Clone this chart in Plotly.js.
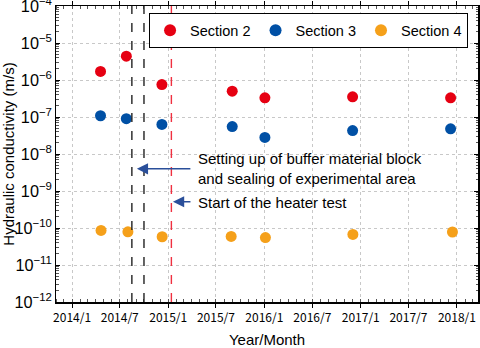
<!DOCTYPE html>
<html><head><meta charset="utf-8">
<script src="https://cdn.plot.ly/plotly-3.0.1.min.js"></script>
<style>html,body{margin:0;padding:0;background:#fff}</style>
</head><body><div id="chart" style="width:480px;height:348px"></div>
<script>
const dates = ["2014-04-19","2014-07-26","2014-12-08","2015-09-01","2016-01-03","2016-12-01","2017-12-08"];
const datesS4 = ["2014-04-21","2014-08-01","2014-12-09","2015-08-28","2016-01-05","2016-12-02","2017-12-15"];
const section2 = [1.7e-6, 4.4e-6, 7.5e-7, 5.0e-7, 3.3e-7, 3.5e-7, 3.3e-7];
const section3 = [1.08e-7, 9.0e-8, 6.3e-8, 5.5e-8, 2.8e-8, 4.3e-8, 4.8e-8];
const section4 = [8.6e-11, 7.9e-11, 5.8e-11, 5.9e-11, 5.5e-11, 6.7e-11, 7.8e-11];
const seriesNames = ["Section 2","Section 3","Section 4"];
const colors = ["#e60012","#0050a5","#f5a01a"];
const tickDates = ["2014-01-01","2014-07-01","2015-01-01","2015-07-01","2016-01-01","2016-07-01","2017-01-01","2017-07-01","2018-01-01"];
const tickLabels = ["2014/1","2014/7","2015/1","2015/7","2016/1","2016/7","2017/1","2017/7","2018/1"];
const eventLines = ["2014-08-16","2014-10-01","2015-01-13"];
const eventColors = ["#222","#222","#f03040"];
const notes = ["Setting up of buffer material block<br>and sealing of experimental area","Start of the heater test"];
const noteArrowX = ["2014-09-04","2015-01-19"];
const noteArrowY = [-8.40, -9.29];

const font = "Liberation Sans, Arial, Helvetica, sans-serif";
const ys = [section2, section3, section4];
const xs = [dates, dates, datesS4];
const traces = ys.map((y,i)=>({
  type:"scatter", mode:"markers", x:xs[i], y:y, name:seriesNames[i],
  marker:{color:colors[i], size:11}
}));

const shapes = eventLines.map((d,i)=>({
  type:"line", xref:"x", yref:"paper", x0:d, x1:d, y0:0, y1:1,
  line:{color:eventColors[i], width:1.4, dash:"dash"}
}));

const annotations = [];
noteArrowX.forEach((x,i)=>{
  annotations.push({x:x, y:noteArrowY[i], xref:"x", yref:"y", text:"", showarrow:true,
    axref:"pixel", ayref:"pixel", ax:55-(i*36), ay:0, arrowhead:2, arrowsize:1.6, arrowwidth:1.4,
    arrowcolor:"#2a4f9a", standoff:0});
});
annotations.push({x:0.332, y:(302-168)/296, xref:"paper", yref:"paper", xanchor:"left", yanchor:"middle",
  text:notes[0], showarrow:false, align:"left", font:{family:font, size:15, color:"#000"}});
annotations.push({x:0.332, y:(302-202)/296, xref:"paper", yref:"paper", xanchor:"left", yanchor:"middle",
  text:notes[1], showarrow:false, align:"left", font:{family:font, size:15, color:"#000"}});

const layout = {
  width:480, height:348, margin:{l:56, r:2, t:6, b:46},
  paper_bgcolor:"#fff", plot_bgcolor:"#fff",
  showlegend:true,
  legend:{orientation:"h", x:0.976, xanchor:"right", y:0.976, yanchor:"top",
    bordercolor:"#000", borderwidth:1.2, bgcolor:"#fff", font:{family:font, size:14.5, color:"#000"},
    itemsizing:"constant", itemwidth:30, traceorder:"normal"},
  xaxis:{type:"date", range:["2013-11-01","2018-03-22"], tickvals:tickDates, ticktext:tickLabels,
    tickfont:{family:"Noto Sans CJK JP, DejaVu Sans Mono, monospace", size:12, color:"#000"},
    ticks:"outside", ticklen:4, tickcolor:"#000", showline:true, linecolor:"#000", linewidth:1.5,
    mirror:"allticks", showgrid:true, gridcolor:"#c8c8c8", griddash:"dot", gridwidth:1, zeroline:false,
    minor:{ticks:"inside", dtick:"M1", tick0:"2014-01-01", ticklen:3, tickcolor:"#555", showgrid:false},
    title:{text:"Year/Month", font:{family:font, size:15, color:"#000"}, standoff:11}},
  yaxis:{type:"log", range:[-12,-4], dtick:1, exponentformat:"power", ticklabeloverflow:"allow",
    tickfont:{family:font, size:13, color:"#000"},
    ticks:"inside", ticklen:4, tickcolor:"#000", showline:true, linecolor:"#000", linewidth:1.5,
    mirror:"allticks", showgrid:true, gridcolor:"#c8c8c8", griddash:"dot", gridwidth:1, zeroline:false,
    minor:{ticks:"inside", dtick:"D1", ticklen:2.5, tickcolor:"#555", showgrid:false},
    title:{text:"Hydraulic conductivity (m/s)", font:{family:font, size:15, color:"#000"}, standoff:4}},
  shapes:shapes, annotations:annotations
};
Plotly.newPlot("chart", traces, layout, {displayModeBar:false, staticPlot:true});
</script></body></html>
